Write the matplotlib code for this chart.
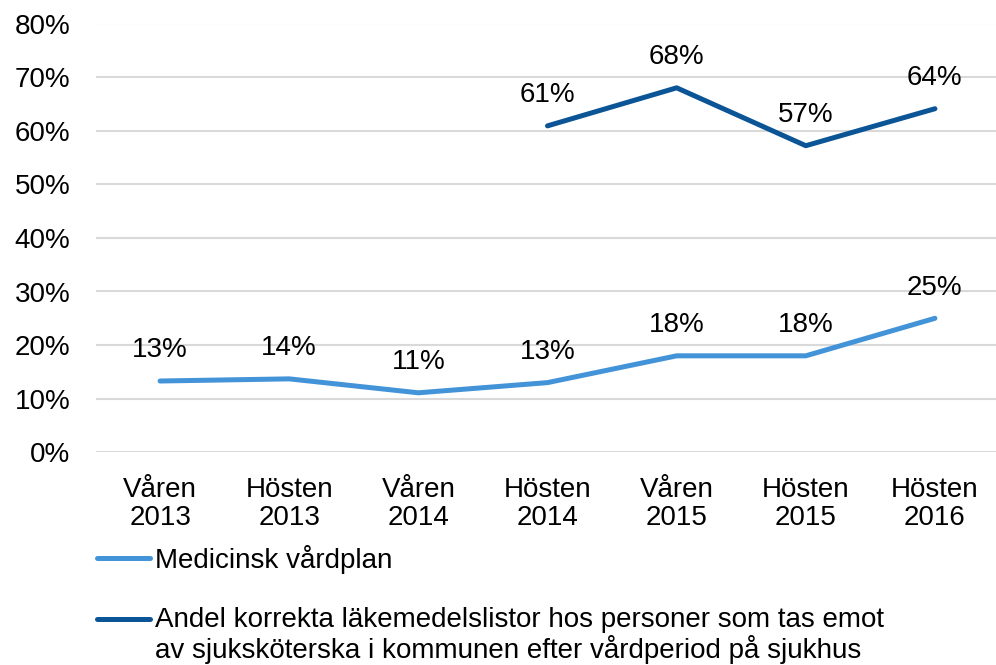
import numpy as np
import matplotlib
matplotlib.use("Agg")
import matplotlib.pyplot as plt
from matplotlib.lines import Line2D

plt.rcParams['font.family'] = ['Liberation Sans', 'DejaVu Sans']

periods = ["Våren\n2013", "Hösten\n2013", "Våren\n2014", "Hösten\n2014",
           "Våren\n2015", "Hösten\n2015", "Hösten\n2016"]
vardplan = [0.133, 0.137, 0.111, 0.130, 0.180, 0.180, 0.250]
vardplan_labels = ["13%", "14%", "11%", "13%", "18%", "18%", "25%"]
lakemedel = [np.nan, np.nan, np.nan, 0.609, 0.680, 0.572, 0.641]
lakemedel_labels = ["", "", "", "61%", "68%", "57%", "64%"]

light = "#4393D8"
dark = "#0B5596"
fs = 20

W, H = 996, 665
fig = plt.figure(figsize=(W / 100, H / 100), dpi=100)
ax = fig.add_axes([95.5 / W, (H - 452.3) / H, (W - 95.5) / W, (452.3 - 23.5) / H])

x = np.arange(len(periods))
ax.plot(x, vardplan, color=light, lw=3.6, solid_capstyle='round', solid_joinstyle='round')
ax.plot(x, lakemedel, color=dark, lw=3.6, solid_capstyle='round', solid_joinstyle='round')

for xi, v, lab in zip(x, vardplan, vardplan_labels):
    ax.annotate(lab, (xi, v), xytext=(0, 22), textcoords='offset points',
                ha='center', va='center', fontsize=fs)
for xi, v, lab in zip(x, lakemedel, lakemedel_labels):
    if lab:
        ax.annotate(lab, (xi, v), xytext=(0, 22), textcoords='offset points',
                    ha='center', va='center', fontsize=fs)

ax.set_ylim(0, 0.8)
ax.set_xlim(-0.5, 6.5 - 3.5 / 129)
ax.set_yticks(np.arange(0, 0.81, 0.1))
ax.set_yticklabels([f"{int(round(t * 100))}%" for t in np.arange(0, 0.81, 0.1)])
ax.set_xticks(x)
ax.set_xticklabels(periods, linespacing=1.13)
ax.tick_params(axis='both', length=0, labelsize=fs)
ax.tick_params(axis='y', pad=18)
ax.tick_params(axis='x', pad=17.5)
ax.grid(axis='y', color='#D9D9D9', lw=1.5)
ax.set_axisbelow(True)
for s in ax.spines.values():
    s.set_visible(False)

# legend below the plot, drawn by hand so the handle sits on the first text line
# (colour, text lines, handle y, first baseline y) in pixels from the top
legend_rows = [(light, ["Medicinsk vårdplan"], 558, 568),
               (dark, ["Andel korrekta läkemedelslistor hos personer som tas emot",
                       "av sjuksköterska i kommunen efter vårdperiod på sjukhus"], 619, 627)]
for col, lines, yh, yb in legend_rows:
    fig.add_artist(Line2D([97 / W, 150 / W], [(H - yh) / H] * 2, color=col, lw=3.6,
                          solid_capstyle='round', transform=fig.transFigure))
    for i, txt in enumerate(lines):
        fig.text(155 / W, (H - yb - 31 * i) / H, txt, fontsize=fs, ha='left',
                 va='baseline', transform=fig.transFigure)

fig.savefig("out.png", dpi=100)
